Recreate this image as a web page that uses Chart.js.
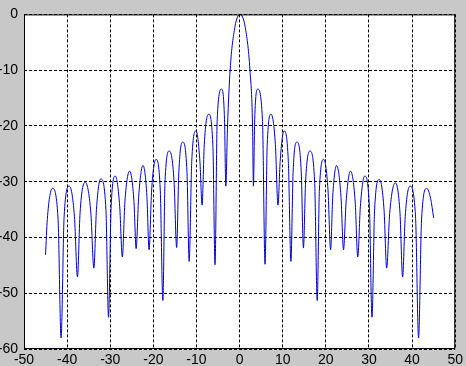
<!DOCTYPE html>
<html>
<head>
<meta charset="utf-8">
<script src="https://cdn.jsdelivr.net/npm/chart.js@4"></script>
<style>
  html, body { margin: 0; padding: 0; background: #c8c8c8; }
  canvas { display: block; }
</style>
</head>
<body>
<canvas id="canvas" width="466" height="366"></canvas>
<script>
// angle (deg) and array gain (dB): nulls, shoulders and lobe peaks
let angles = [
    -45.0, -44.6, -43.4, -42.1, -41.4,
    -40.7, -39.5, -38.3, -37.6,
    -37.0, -35.8, -34.5, -33.8,
    -33.2, -32.2, -31.0, -30.4,
    -29.8, -28.8, -27.8, -27.2,
    -26.6, -25.5, -24.5, -24.0,
    -23.4, -22.4, -21.5, -21.0,
    -20.4, -19.4, -18.4, -17.8,
    -17.3, -16.3, -15.2, -14.6,
    -14.1, -13.2, -12.2, -11.7,
    -11.1, -10.1, -9.2, -8.7,
    -8.2, -7.2, -6.2, -5.7,
    -5.2, -4.2, -3.5, -3.2,
    -2.8, -2.2, -1.1, 0.1, 1.3, 2.4, 3.0, 3.2,
    3.5, 4.2, 5.3, 5.9,
    6.4, 7.3, 8.3, 8.9,
    9.4, 10.3, 11.3, 11.9,
    12.4, 13.3, 14.3, 14.8,
    15.3, 16.3, 17.4, 18.0,
    18.5, 19.5, 20.5, 21.1,
    21.6, 22.5, 23.5, 24.1,
    24.7, 25.7, 26.8, 27.4,
    28.0, 29.0, 30.1, 30.7,
    31.3, 32.4, 33.5, 34.1,
    34.8, 36.1, 37.2, 37.8,
    38.4, 39.5, 40.8, 41.5,
    42.2, 43.4, 44.3, 45.0
];
let gainDb = [
    -43.1, -36.8, -31.2, -36.7, -58.0,
    -36.3, -30.8, -36.3, -47.1,
    -35.6, -30.1, -35.6, -45.5,
    -35.0, -29.5, -35.0, -54.3,
    -34.5, -29.0, -34.5, -43.5,
    -33.6, -28.1, -33.6, -42.0,
    -32.6, -27.1, -32.6, -42.2,
    -31.5, -26.0, -31.5, -51.3,
    -30.0, -24.5, -30.0, -41.8,
    -28.4, -22.9, -28.4, -44.3,
    -26.4, -20.9, -26.4, -34.2,
    -23.4, -17.9, -23.4, -44.9,
    -18.9, -13.4, -18.9, -30.8,
    -20.0, -10.0, -2.3, 0.0, -2.3, -10.0, -20.0, -30.8,
    -18.9, -13.4, -18.9, -44.8,
    -23.4, -17.9, -23.4, -34.2,
    -26.4, -20.9, -26.4, -44.3,
    -28.4, -22.9, -28.4, -41.9,
    -30.0, -24.5, -30.0, -51.3,
    -31.5, -26.0, -31.5, -42.2,
    -32.6, -27.1, -32.6, -42.2,
    -33.6, -28.1, -33.6, -43.5,
    -34.5, -29.0, -34.5, -54.3,
    -35.1, -29.6, -35.1, -45.5,
    -35.7, -30.2, -35.7, -47.1,
    -36.3, -30.8, -36.3, -58.0,
    -36.7, -31.2, -33.0, -36.5
];
let xTicks = [-50, -40, -30, -20, -10, 0, 10, 20, 30, 40, 50];
let yTicks = [-60, -50, -40, -30, -20, -10, 0];

let ctx = document.getElementById("canvas").getContext("2d");

// white plot area and black box, like the old matlab axes
let plotBox = {
    id: "plotBox",
    beforeDraw(chart) {
        let a = chart.chartArea;
        chart.ctx.save();
        chart.ctx.fillStyle = "#ffffff";
        chart.ctx.fillRect(a.left, a.top, a.right - a.left, a.bottom - a.top);
        chart.ctx.restore();
    },
    afterDraw(chart) {
        let a = chart.chartArea;
        let c = chart.ctx;
        c.save();
        c.strokeStyle = "#000000";
        c.lineWidth = 1;
        c.setLineDash([]);
        c.strokeRect(a.left + 0.5, a.top + 0.5, a.right - a.left - 1, a.bottom - a.top - 1);
        c.restore();
    }
};

let tickFont = { family: "'Liberation Sans', Arial, sans-serif", size: 14 };

let chart = new Chart(ctx, {
    type: "line",
    data: {
        datasets: [{
            data: angles.map((a, i) => ({ x: a, y: gainDb[i] })),
            borderColor: "#0000cc",
            borderWidth: 1,
            pointRadius: 0,
            fill: false,
            cubicInterpolationMode: "monotone"
        }]
    },
    options: {
        responsive: false,
        animation: false,
        layout: {
            padding: { top: 7, right: 8, left: 0, bottom: 0 }
        },
        plugins: {
            legend: { display: false },
            tooltip: { enabled: false }
        },
        scales: {
            x: {
                type: "linear",
                min: -50,
                max: 50,
                afterBuildTicks: (s) => { s.ticks = xTicks.map(v => ({ value: v })); },
                afterFit: (s) => { s.height = 17; },
                grid: { color: "#000000", lineWidth: 1, drawTicks: false },
                border: { display: false, dash: [3, 2] },
                ticks: { color: "#000000", font: tickFont, padding: 3, maxRotation: 0, autoSkip: false }
            },
            y: {
                type: "linear",
                min: -60,
                max: 0,
                afterBuildTicks: (s) => { s.ticks = yTicks.map(v => ({ value: v })); },
                afterFit: (s) => { s.width = 24; },
                grid: { color: "#000000", lineWidth: 1, drawTicks: false },
                border: { display: false, dash: [3, 2] },
                ticks: { color: "#000000", font: tickFont, padding: 6, autoSkip: false }
            }
        }
    },
    plugins: [plotBox]
});
</script>
</body>
</html>
